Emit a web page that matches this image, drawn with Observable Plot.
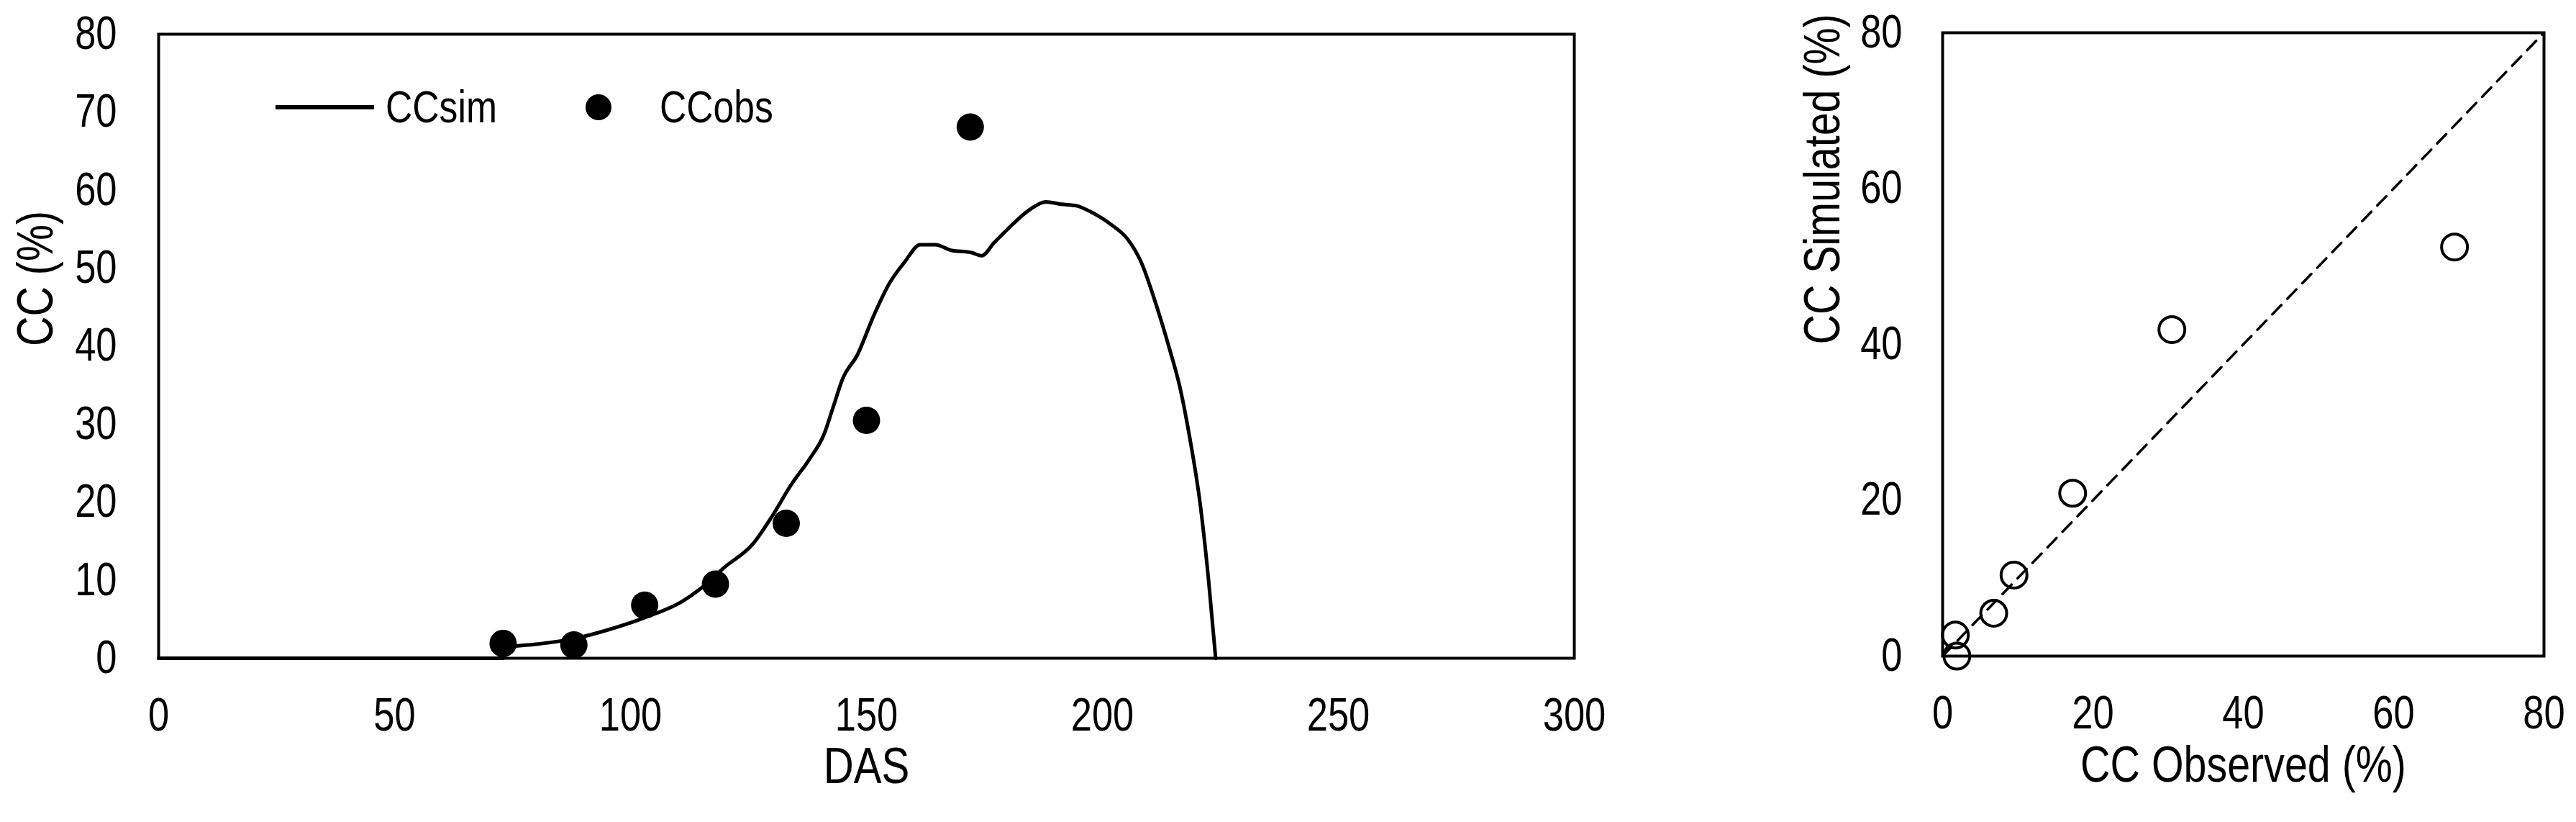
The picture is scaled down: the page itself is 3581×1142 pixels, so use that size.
<!DOCTYPE html>
<html>
<head>
<meta charset="utf-8">
<script src="https://cdn.jsdelivr.net/npm/d3@7"></script>
<script src="https://cdn.jsdelivr.net/npm/@observablehq/plot@0.6"></script>
<style>
  html, body { margin: 0; padding: 0; background: #fff; }
  #root { position: relative; width: 3581px; height: 1142px; overflow: hidden; background: #fff;
          font-family: "Liberation Sans", Arial, sans-serif; }
  #root > svg { position: absolute; top: 0; }
</style>
</head>
<body>
<div id="root"></div>
<script>
// ---- Data ----
const simDAS = [0, 73, 74, 80, 88, 95, 103, 111, 115, 120, 126, 130, 134, 138, 141, 143, 145, 148, 151.6, 154.8, 158.1, 161.4, 164.6, 167.9, 172.3, 174.4, 177.1, 179.9, 184.8, 188, 191.3, 194.5, 197.3, 201.6, 205.5, 208.2, 211.4, 214.2, 216.4, 218.5, 220.8, 222.5, 224];
const simCC  = [0, 0, 1.4, 1.8, 2.5, 3.6, 5.2, 7.3, 9.0, 11.7, 14.7, 18.2, 22.2, 25.6, 28.7, 32.3, 35.9, 38.8, 44, 48, 50.8, 53, 53, 52.3, 52, 51.6, 53.3, 55, 57.6, 58.5, 58.2, 58, 57.3, 55.7, 53.6, 50.8, 45.3, 39.7, 34.8, 28.3, 19.4, 10, 0];

const obsDAS = [73, 88, 103, 118, 133, 150, 172];
const obsCC  = [1.9, 1.7, 6.8, 9.5, 17.3, 30.5, 68.1];

const simAtObs = [0, 2.7, 5.5, 10.4, 20.9, 41.9, 52.5];

const dasTicks = [0, 50, 100, 150, 200, 250, 300];
const ccTicks  = [0, 10, 20, 30, 40, 50, 60, 70, 80];
const cmpTicks = [0, 20, 40, 60, 80];
const oneToOne = [0, 80];

const legendLabels = ["CCsim", "CCobs"];
const xTitleLeft = "DAS", yTitleLeft = "CC (%)";
const xTitleRight = "CC Observed (%)", yTitleRight = "CC Simulated (%)";

// ---- Styling ----
const FONT = '"Liberation Sans", Arial, sans-serif';
const CONDENSE = 0.82; // reference uses a narrow sans face
const baseStyle = {fontFamily: FONT, fontSize: "64px", color: "#000", background: "transparent", overflow: "visible"};

const simIdx = d3.range(simDAS.length);
const obsIdx = d3.range(obsDAS.length);

const left = Plot.plot({
  width: 2260, height: 1142,
  marginLeft: 220, marginRight: 72, marginTop: 47, marginBottom: 228,
  style: baseStyle,
  x: {domain: [0, 300], ticks: dasTicks, tickSize: 0, tickPadding: 55, label: null},
  y: {domain: [0, 80], ticks: ccTicks, tickSize: 0, tickPadding: 58, label: null},
  marks: [
    Plot.line(simIdx, {x: i => simDAS[i], y: i => simCC[i], curve: "monotone-x", stroke: "#000", strokeWidth: 5, strokeLinejoin: "round"}),
    Plot.frame({stroke: "#000", strokeWidth: 4}),
    Plot.dot(obsIdx, {x: i => obsDAS[i], y: i => obsCC[i], r: 19, fill: "#000", stroke: "none"}),
    Plot.text([xTitleLeft], {frameAnchor: "bottom", dy: 173, fontSize: 71}),
    Plot.text([yTitleLeft], {frameAnchor: "left", dx: -170, rotate: -90, fontSize: 70})
  ]
});
left.style.left = "0px";

const right = Plot.plot({
  width: 1281, height: 1142,
  marginLeft: 400, marginRight: 45, marginTop: 45, marginBottom: 231,
  style: baseStyle,
  x: {domain: [0, 80], ticks: cmpTicks, tickSize: 0, tickPadding: 55, label: null},
  y: {domain: [0, 80], ticks: cmpTicks, tickSize: 0, tickPadding: 56, label: null},
  marks: [
    Plot.line(oneToOne, {x: d => d, y: d => d, stroke: "#000", strokeWidth: 3.5, strokeDasharray: "18,12"}),
    Plot.frame({stroke: "#000", strokeWidth: 4}),
    Plot.dot(obsIdx, {x: i => obsCC[i], y: i => simAtObs[i], r: 18, fill: "none", stroke: "#000", strokeWidth: 4}),
    Plot.text([xTitleRight], {frameAnchor: "bottom", dy: 174, fontSize: 70}),
    Plot.text([yTitleRight], {frameAnchor: "left", dx: -166, rotate: -90, fontSize: 70})
  ]
});
right.style.left = "2300px";

const root = document.getElementById("root");
root.appendChild(left);
root.appendChild(right);

// ---- Legend (SVG overlay) ----
const ns = "http://www.w3.org/2000/svg";
const lg = document.createElementNS(ns, "svg");
lg.setAttribute("width", "1200");
lg.setAttribute("height", "260");
lg.style.left = "0px";
lg.style.top = "0px";
const ln = document.createElementNS(ns, "line");
ln.setAttribute("x1", 383); ln.setAttribute("x2", 520);
ln.setAttribute("y1", 149); ln.setAttribute("y2", 149);
ln.setAttribute("stroke", "#000"); ln.setAttribute("stroke-width", 6);
lg.appendChild(ln);
const t1 = document.createElementNS(ns, "text");
t1.setAttribute("x", 536); t1.setAttribute("y", 170);
t1.setAttribute("font-family", FONT); t1.setAttribute("font-size", 63);
t1.textContent = legendLabels[0];
lg.appendChild(t1);
const c = document.createElementNS(ns, "circle");
c.setAttribute("cx", 832); c.setAttribute("cy", 149); c.setAttribute("r", 18);
c.setAttribute("fill", "#000");
lg.appendChild(c);
const t2 = document.createElementNS(ns, "text");
t2.setAttribute("x", 917); t2.setAttribute("y", 170);
t2.setAttribute("font-family", FONT); t2.setAttribute("font-size", 63);
t2.textContent = legendLabels[1];
lg.appendChild(t2);
root.appendChild(lg);

// ---- Condense all text horizontally around its anchor ----
root.querySelectorAll("text").forEach(t => {
  const x = parseFloat(t.getAttribute("x") || 0) || 0;
  const tr = t.getAttribute("transform") || "";
  t.setAttribute("transform", `${tr} translate(${x},0) scale(${CONDENSE},1) translate(${-x},0)`.trim());
});
</script>
</body>
</html>
